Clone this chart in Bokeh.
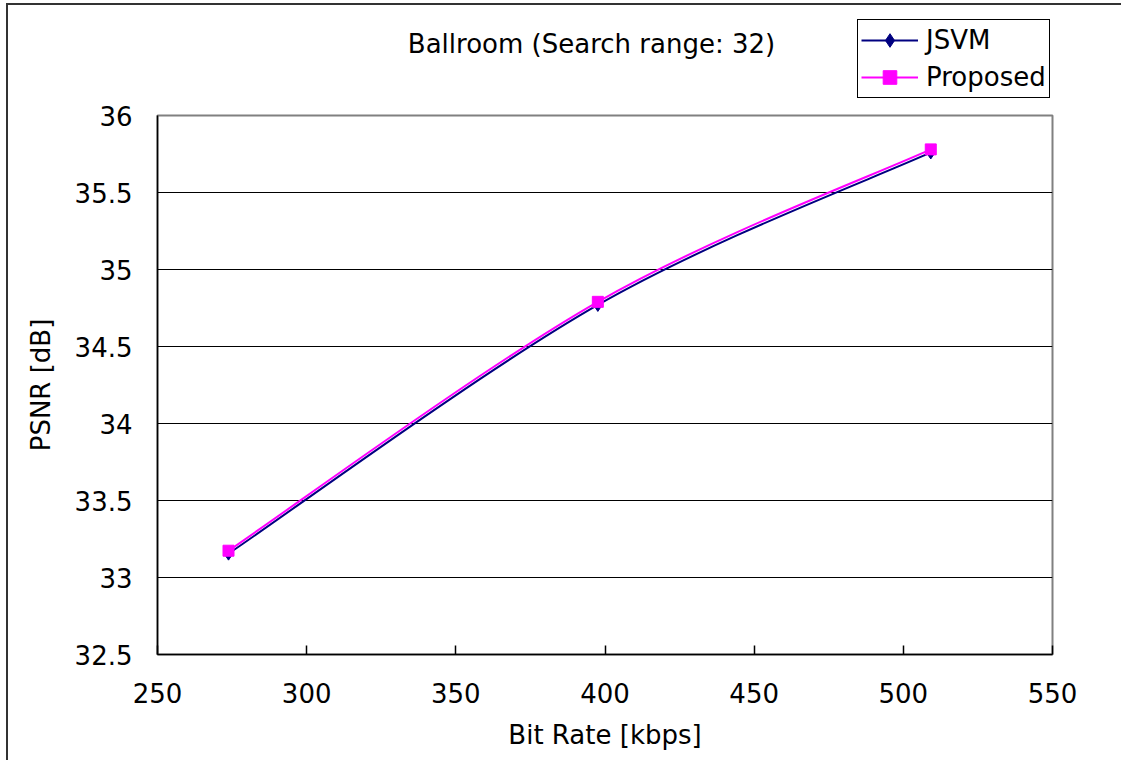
from bokeh.plotting import figure
from bokeh.layouts import column
from bokeh.models import Label, Legend, LegendItem, ColumnDataSource, FixedTicker, Range1d
from bokeh.embed import file_html
from bokeh.resources import INLINE

# ---- data ----
title_text = "Ballroom (Search range: 32)"
x_title = "Bit Rate [kbps]"
y_title = "PSNR [dB]"
series_names = ["JSVM", "Proposed"]
series_colors = ["#000080", "#FF00FF"]
series_markers = ["diamond", "square"]
jsvm_rate = [273.8, 397.6, 509.2]
jsvm_psnr = [33.155, 34.77, 35.76]
prop_rate = [273.8, 397.6, 509.2]
prop_psnr = [33.174, 34.79, 35.78]
x_ticks = [250, 300, 350, 400, 450, 500, 550]
y_ticks = [32.5, 33, 33.5, 34, 34.5, 35, 35.5, 36]
y_tick_labels = ["32.5", "33", "33.5", "34", "34.5", "35", "35.5", "36"]

FONT = "DejaVu Sans"
FS = "26px"
W = 1116
LEFT = 149          # frame left inside the figures
FRAME_W = 895
FRAME_H = 539


def smooth_segments(xs, ys):
    n = len(xs)
    d = dict(x0=[], y0=[], x1=[], y1=[], cx0=[], cy0=[], cx1=[], cy1=[])
    for i in range(n - 1):
        xa, ya = xs[i], ys[i]
        xb, yb = xs[i + 1], ys[i + 1]
        xp, yp = (xs[i - 1], ys[i - 1]) if i > 0 else (xa, ya)
        xn, yn = (xs[i + 2], ys[i + 2]) if i + 2 < n else (xb, yb)
        d["x0"].append(xa); d["y0"].append(ya)
        d["x1"].append(xb); d["y1"].append(yb)
        d["cx0"].append(xa + (xb - xp) / 6); d["cy0"].append(ya + (yb - yp) / 6)
        d["cx1"].append(xb - (xn - xa) / 6); d["cy1"].append(yb - (yn - ya) / 6)
    return ColumnDataSource(d)


# ---------- header figure: title + legend ----------
TOP_H = 94
head = figure(width=W, height=TOP_H, x_range=Range1d(0, FRAME_W), y_range=Range1d(TOP_H, 0),
              output_backend="svg", toolbar_location=None,
              min_border_left=LEFT, min_border_right=W - LEFT - FRAME_W,
              min_border_top=0, min_border_bottom=0)
head.axis.visible = False
head.grid.visible = False
head.outline_line_color = None
head.background_fill_color = "white"
head.border_fill_color = "white"

head.add_layout(Label(x=434, y=38, text=title_text, text_align="center",
                      text_baseline="middle", text_font=FONT, text_font_size=FS,
                      text_color="black"))

# legend proxies (NaN data: nothing is drawn in the plot area)
nan = float("nan")
items = []
for name, col, mk in zip(series_names, series_colors, series_markers):
    lr = head.line(x=[nan], y=[nan], line_color=col, line_width=2)
    sr = head.scatter(x=[nan], y=[nan], marker=mk, size=13 if mk == "diamond" else 11,
                      fill_color=col, line_color=col)
    items.append(LegendItem(label=name, renderers=[lr, sr]))

legend = Legend(items=items, location=(700, 1), orientation="vertical",
                label_text_font=FONT, label_text_font_size=FS, label_text_color="black",
                glyph_width=57, glyph_height=34, label_height=34, label_standoff=8,
                spacing=3, padding=3, margin=0,
                border_line_color="black", border_line_width=1, border_line_alpha=1,
                background_fill_color="white", background_fill_alpha=1)
head.add_layout(legend, "center")

# ---------- main figure ----------
TOP_B = 16
MAIN_H = 661
p = figure(width=W, height=MAIN_H, x_range=(250, 550), y_range=(32.5, 36),
           output_backend="svg", toolbar_location=None,
           min_border_left=LEFT, min_border_right=W - LEFT - FRAME_W,
           min_border_top=TOP_B, min_border_bottom=MAIN_H - TOP_B - FRAME_H)

p.outline_line_color = "#808080"
p.outline_line_width = 2
p.background_fill_color = "white"
p.border_fill_color = "white"

p.xgrid.visible = False
p.ygrid.ticker = FixedTicker(ticks=y_ticks)
p.ygrid.grid_line_color = "black"
p.ygrid.grid_line_width = 1

p.xaxis.ticker = FixedTicker(ticks=x_ticks)
p.yaxis.ticker = FixedTicker(ticks=y_ticks)
p.yaxis.major_label_overrides = dict(zip(y_ticks, y_tick_labels))
for ax in (p.xaxis[0], p.yaxis[0]):
    ax.axis_line_color = "black"
    ax.axis_line_width = 1.5
    ax.major_tick_line_color = "black"
    ax.major_tick_line_width = 1.5
    ax.minor_tick_line_color = None
    ax.major_label_text_font = FONT
    ax.major_label_text_font_size = FS
    ax.major_label_text_color = "black"
    ax.axis_label_text_font = FONT
    ax.axis_label_text_font_size = FS
    ax.axis_label_text_font_style = "normal"
    ax.axis_label_text_color = "black"
p.xaxis.axis_label = x_title
p.yaxis.axis_label = y_title
p.xaxis.major_tick_in = 9
p.xaxis.major_tick_out = 0
p.xaxis.major_label_standoff = 28
p.xaxis.axis_label_standoff = 14
p.yaxis.major_tick_in = 0
p.yaxis.major_tick_out = 0
p.yaxis.major_label_standoff = 25
p.yaxis.axis_label_standoff = 16

sj = smooth_segments(jsvm_rate, jsvm_psnr)
sp = smooth_segments(prop_rate, prop_psnr)
p.bezier(x0="x0", y0="y0", x1="x1", y1="y1", cx0="cx0", cy0="cy0", cx1="cx1", cy1="cy1",
         source=sj, line_color=series_colors[0], line_width=2)
p.scatter(jsvm_rate, jsvm_psnr, marker="diamond", size=13,
          fill_color=series_colors[0], line_color=series_colors[0])
p.bezier(x0="x0", y0="y0", x1="x1", y1="y1", cx0="cx0", cy0="cy0", cx1="cx1", cy1="cy1",
         source=sp, line_color=series_colors[1], line_width=2)
p.scatter(prop_rate, prop_psnr, marker="square", size=11,
          fill_color=series_colors[1], line_color=series_colors[1])

layout = column(head, p, spacing=0)
layout.styles = {"border-left": "2px solid #333333", "border-top": "2px solid #333333",
                 "border-right": "0px none", "border-bottom": "0px none",
                 "margin-left": "6px", "margin-top": "3px"}

open("out.html", "w").write(file_html(layout, INLINE))
